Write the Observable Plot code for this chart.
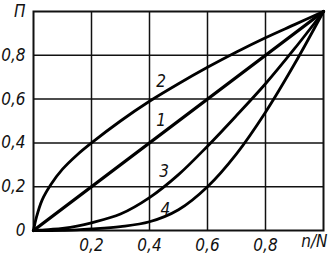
<!DOCTYPE html>
<html><head><meta charset="utf-8">
<script src="https://cdn.jsdelivr.net/npm/d3@7"></script>
<script src="https://cdn.jsdelivr.net/npm/@observablehq/plot@0.6"></script>
<style>
body{margin:0;background:#fff;}
</style></head>
<body><div id="chart"></div>
<script>
const xs = [0, 0.01, 0.03, 0.06, 0.1, 0.15, 0.2, 0.3, 0.4, 0.5, 0.6, 0.7, 0.8, 0.9, 1];
const curve1X = [0, 1];
const curve1Y = [0, 1];
const curve2Y = [0, 0.06, 0.14, 0.21, 0.28, 0.345, 0.40, 0.50, 0.59, 0.67, 0.745, 0.815, 0.88, 0.94, 1];
const curve3Y = [0, 0, 0.002, 0.005, 0.01, 0.02, 0.035, 0.075, 0.15, 0.255, 0.385, 0.525, 0.67, 0.83, 1];
const curve4Y = [0, 0, 0, 0, 0.001, 0.003, 0.007, 0.018, 0.04, 0.095, 0.2, 0.35, 0.54, 0.76, 1];
const curveNames = ["1", "2", "3", "4"];
const labelX = [0.44, 0.44, 0.45, 0.455];
const labelY = [0.50, 0.68, 0.27, 0.095];
const xTicks = [0.2, 0.4, 0.6, 0.8];
const yTicks = [0, 0.2, 0.4, 0.6, 0.8, 1];
const xTitle = "n/N";
const yTitle = "П";

const lines = [];
curve1X.forEach((x, i) => lines.push({c: "1", x, y: curve1Y[i]}));
xs.forEach((x, i) => lines.push({c: "2", x, y: curve2Y[i]}));
xs.forEach((x, i) => lines.push({c: "3", x, y: curve3Y[i]}));
xs.forEach((x, i) => lines.push({c: "4", x, y: curve4Y[i]}));
const labels = curveNames.map((t, i) => ({t, x: labelX[i], y: labelY[i]}));
const fmt = d => d === 1 ? yTitle : d === 0 ? "0" : d.toFixed(1).replace(".", ",");

const chart = Plot.plot({
  width: 332, height: 257,
  marginLeft: 33, marginRight: 9, marginTop: 11, marginBottom: 27,
  x: {domain: [0, 1]},
  y: {domain: [0, 1]},
  style: {fontSize: "16px", color: "#111", fontFamily: "'Liberation Sans Narrow', 'DejaVu Sans Condensed', sans-serif", fontStyle: "italic", background: "#fff"},
  marks: [
    Plot.gridX(xTicks, {stroke: "#111", strokeOpacity: 1, strokeWidth: 1.5}),
    Plot.gridY(yTicks.filter(d => d > 0 && d < 1), {stroke: "#111", strokeOpacity: 1, strokeWidth: 1.5}),
    Plot.frame({stroke: "#111", strokeWidth: 2}),
    Plot.line(lines.filter(d => d.c === "1"), {x: "x", y: "y", stroke: "#000", strokeWidth: 3.4}),
    Plot.line(lines.filter(d => d.c !== "1"), {x: "x", y: "y", z: "c", curve: "catmull-rom", stroke: "#000", strokeWidth: 2.8}),
    Plot.text(labels, {x: "x", y: "y", text: "t", fontSize: 17, fill: "#111"}),
    Plot.axisX(xTicks, {tickSize: 0, tickPadding: 8, tickFormat: fmt, fontSize: 17, label: null}),
    Plot.axisY(yTicks, {tickSize: 0, tickPadding: 8, tickFormat: fmt, fontSize: 17, label: null}),
    Plot.text([xTitle], {frameAnchor: "bottom-right", dy: 16, dx: 4, fontSize: 17, fill: "#111", textAnchor: "end"})
  ]
});
document.getElementById("chart").appendChild(chart);
</script></body></html>
